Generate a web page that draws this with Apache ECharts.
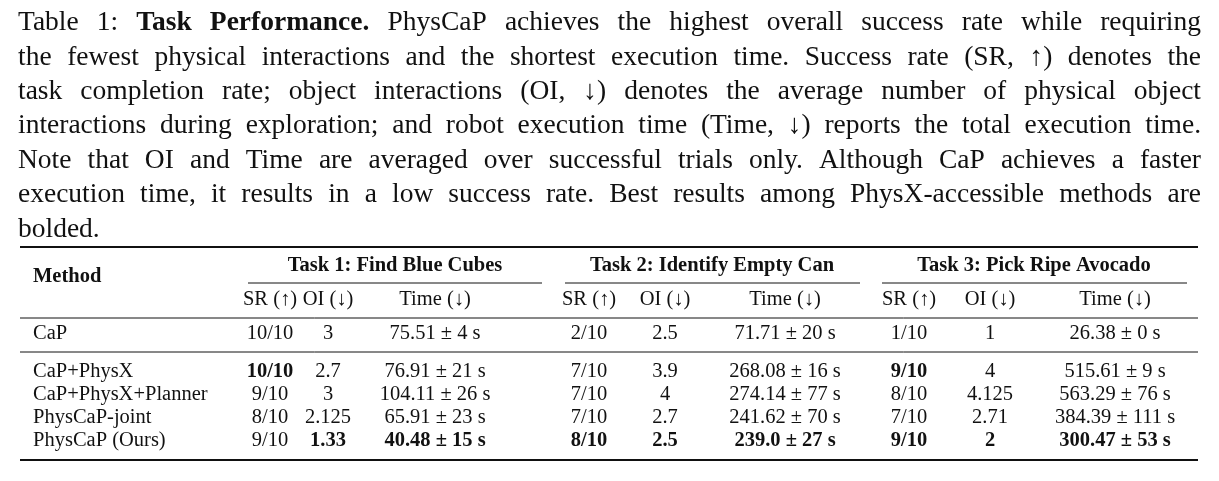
<!DOCTYPE html>
<html><head><meta charset="utf-8">
<script src="https://cdn.jsdelivr.net/npm/echarts@6/dist/echarts.min.js"></script>
<style>html,body{margin:0;padding:0;background:#fff}#c{width:1219px;height:481px}</style>
</head><body><div id="c"></div>
<script>
const captionLines = [
 "Table 1: **Task Performance.** PhysCaP achieves the highest overall success rate while requiring",
 "the fewest physical interactions and the shortest execution time.  Success rate (SR, ↑) denotes the",
 "task completion rate; object interactions (OI, ↓) denotes the average number of physical object",
 "interactions during exploration; and robot execution time (Time, ↓) reports the total execution time.",
 "Note that OI and Time are averaged over successful trials only.  Although CaP achieves a faster",
 "execution time, it results in a low success rate.  Best results among PhysX-accessible methods are",
 "bolded."
];
const taskNames = ["Task 1: Find Blue Cubes","Task 2: Identify Empty Can","Task 3: Pick Ripe Avocado"];
const subHeads = ["SR (↑)","OI (↓)","Time (↓)"];
const methods = ["CaP","CaP+PhysX","CaP+PhysX+Planner","PhysCaP-joint","PhysCaP (Ours)"];
const t1SR = ["10/10","10/10","9/10","8/10","9/10"];
const t1OI = ["3","2.7","3","2.125","1.33"];
const t1Time = ["75.51 ± 4 s","76.91 ± 21 s","104.11 ± 26 s","65.91 ± 23 s","40.48 ± 15 s"];
const t2SR = ["2/10","7/10","7/10","7/10","8/10"];
const t2OI = ["2.5","3.9","4","2.7","2.5"];
const t2Time = ["71.71 ± 20 s","268.08 ± 16 s","274.14 ± 77 s","241.62 ± 70 s","239.0 ± 27 s"];
const t3SR = ["1/10","9/10","8/10","7/10","9/10"];
const t3OI = ["1","4","4.125","2.71","2"];
const t3Time = ["26.38 ± 0 s","515.61 ± 9 s","563.29 ± 76 s","384.39 ± 111 s","300.47 ± 53 s"];
const boldCells = [
 [0,0,0,0,0,0,0,0,0],
 [1,0,0,0,0,0,1,0,0],
 [0,0,0,0,0,0,0,0,0],
 [0,0,0,0,0,0,0,0,0],
 [0,1,1,1,1,1,1,1,1]
];

const FF = '"Liberation Serif","DejaVu Serif",serif';
const g = [];
const cv = document.createElement('canvas').getContext('2d');
const capFont = 27.5, capL = 18, capR = 1201, capY0 = 23, capDY = 34.4;
captionLines.forEach((ln, li) => {
  let words = ln.split(/\s+/);
  let bold = false, items = [];
  words.forEach(w => {
    let b = bold, t = w;
    if (t.startsWith('**')) { b = true; bold = true; t = t.slice(2); }
    if (t.endsWith('**')) { t = t.slice(0,-2); bold = false; }
    items.push({t, b});
  });
  let total = 0;
  items.forEach(it => { cv.font = (it.b?'bold ':'') + capFont + 'px ' + FF; it.w = cv.measureText(it.t).width; total += it.w; });
  const last = li === captionLines.length - 1;
  const gap = last ? capFont*0.25 : (capR - capL - total) / (items.length - 1);
  let x = capL;
  items.forEach(it => {
    g.push({type:'text', style:{text:it.t, x, y:capY0 + li*capDY, font:(it.b?'bold ':'') + capFont + 'px ' + FF, fill:'#111', verticalAlign:'middle'}});
    x += it.w + gap;
  });
});
function hline(x1,x2,y,w){ g.push({type:'line', shape:{x1,y1:y,x2,y2:y}, style:{stroke:'#111', lineWidth:w}}); }
function txt(t,x,y,b,align){ g.push({type:'text', style:{text:t, x, y, font:(b?'bold ':'')+'20.5px '+FF, fill:'#111', align:align||'center', verticalAlign:'middle'}}); }
hline(20,1198,247,2);
txt("Method",33,277,true,'left');
const taskCenters = [395,712,1034], taskSpans = [[248,542],[565,860],[882,1187]];
const colX = [270,328,435,589,665,785,909,990,1115];
taskNames.forEach((t,i) => { txt(t,taskCenters[i],266,true); hline(taskSpans[i][0],taskSpans[i][1],283,1); });
for (let i=0;i<9;i++) txt(subHeads[i%3], colX[i], 300, false);
hline(20,1198,318,1);
const cols = [t1SR,t1OI,t1Time,t2SR,t2OI,t2Time,t3SR,t3OI,t3Time];
methods.forEach((m,r) => {
  const y = r===0 ? 334 : 372 + (r-1)*23;
  txt(m,33,y,false,'left');
  cols.forEach((c,ci) => txt(c[r], colX[ci], y, boldCells[r][ci]));
});
hline(20,1198,352,1);
hline(20,1198,460,2);
const ch = echarts.init(document.getElementById('c'));
ch.setOption({animation:false, graphic:g});
</script></body></html>
